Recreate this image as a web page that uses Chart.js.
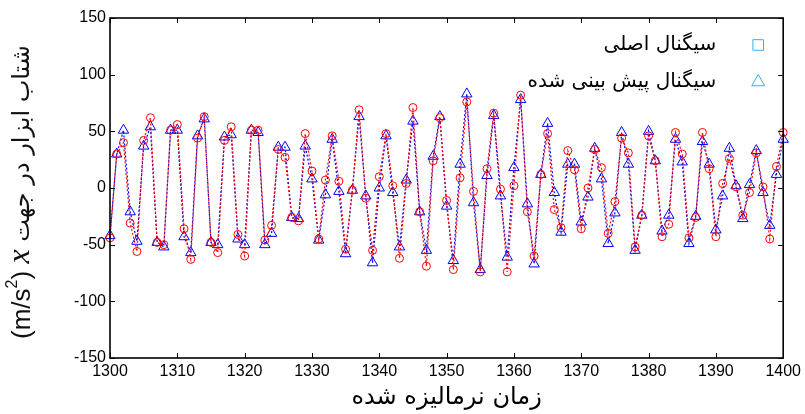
<!DOCTYPE html>
<html>
<head>
<meta charset="utf-8">
<script src="https://cdn.jsdelivr.net/npm/chart.js@4.4.1/dist/chart.umd.min.js"></script>
<style>
    html, body { margin: 0; padding: 0; background: #fff; }
</style>
</head>
<body>
<canvas id="chart" width="805" height="414"></canvas>
<script>
// Eixo do tempo (amostras normalizadas)
const timeSteps = [
    1300, 1301, 1302, 1303, 1304, 1305, 1306, 1307, 1308, 1309,
    1310, 1311, 1312, 1313, 1314, 1315, 1316, 1317, 1318, 1319,
    1320, 1321, 1322, 1323, 1324, 1325, 1326, 1327, 1328, 1329,
    1330, 1331, 1332, 1333, 1334, 1335, 1336, 1337, 1338, 1339,
    1340, 1341, 1342, 1343, 1344, 1345, 1346, 1347, 1348, 1349,
    1350, 1351, 1352, 1353, 1354, 1355, 1356, 1357, 1358, 1359,
    1360, 1361, 1362, 1363, 1364, 1365, 1366, 1367, 1368, 1369,
    1370, 1371, 1372, 1373, 1374, 1375, 1376, 1377, 1378, 1379,
    1380, 1381, 1382, 1383, 1384, 1385, 1386, 1387, 1388, 1389,
    1390, 1391, 1392, 1393, 1394, 1395, 1396, 1397, 1398, 1399,
    1400
];

// Sinal original (círculos vermelhos)
const measured = [
    -44, 30, 40, -31, -56, 42, 62, -48, -50, 51,
    56, -36, -63, 44, 63, -48, -57, 42, 54, -41,
    -60, 51, 51, -46, -33, 34, 27, -26, -29, 48,
    15, -45, 7, 46, 6, -54, -2, 69, -9, -55,
    10, 48, 2, -62, 4, 71, -21, -69, 24, 62,
    -11, -72, 9, 76, -3, -74, 17, 66, -1, -74,
    2, 82, -21, -60, 12, 48, -19, -35, 33, 16,
    -36, 0, 34, 18, -40, -12, 44, 31, -52, -24,
    46, 24, -43, -32, 49, 30, -44, -26, 49, 17,
    -43, 4, 26, 1, -24, -4, 31, 1, -45, 19,
    49
];

// Sinal previsto (triângulos azuis)
const predicted = [
    -42, 30, 51, -21, -47, 37, 54, -48, -52, 51,
    51, -43, -57, 46, 61, -48, -50, 45, 47, -45,
    -50, 51, 49, -50, -40, 36, 36, -26, -27, 37,
    8, -46, -6, 43, -3, -58, -2, 63, -7, -66,
    0, 46, -4, -52, 7, 59, -21, -55, 28, 63,
    -16, -64, 21, 83, -13, -72, 11, 64, -7, -61,
    18, 78, -14, -67, 12, 57, -4, -39, 21, 21,
    -30, -8, 35, 8, -49, -22, 49, 21, -55, -24,
    50, 24, -38, -24, 43, 23, -49, -25, 41, 21,
    -37, -7, 35, 2, -27, 3, 33, -4, -33, 12,
    43
];

const legendLabels = ['سیگنال اصلی', 'سیگنال پیش بینی شده'];
const legendMarkers = ['rect', 'triangle'];
const xTitle = 'زمان نرمالیزه شده';
const yTitle = 'شتاب ابزار در جهت';

const toPoints = values => values.map((v, i) => ({ x: timeSteps[i], y: v }));

// Moldura estilo MATLAB com ticks para dentro
const framePlugin = {
    id: 'frame',
    afterDatasetsDraw(chart) {
        const { ctx, chartArea: a, scales } = chart;
        ctx.save();
        ctx.strokeStyle = '#000';
        ctx.lineWidth = 1.6;
        ctx.strokeRect(a.left, a.top, a.right - a.left, a.bottom - a.top);
        ctx.lineWidth = 1;
        ctx.beginPath();
        scales.x.ticks.forEach(t => {
            const px = Math.round(scales.x.getPixelForValue(t.value)) + 0.5;
            ctx.moveTo(px, a.bottom); ctx.lineTo(px, a.bottom - 5);
            ctx.moveTo(px, a.top); ctx.lineTo(px, a.top + 5);
        });
        scales.y.ticks.forEach(t => {
            const py = Math.round(scales.y.getPixelForValue(t.value)) + 0.5;
            ctx.moveTo(a.left, py); ctx.lineTo(a.left + 5, py);
            ctx.moveTo(a.right, py); ctx.lineTo(a.right - 5, py);
        });
        ctx.stroke();
        ctx.restore();
    }
};

// Legenda no canto superior direito (marcador à direita do texto)
const legendPlugin = {
    id: 'rtlLegend',
    afterDraw(chart) {
        const { ctx, chartArea: a } = chart;
        ctx.save();
        legendLabels.forEach((label, i) => {
            const y = a.top + 27 + i * 37;
            ctx.strokeStyle = '#2fb2ee';
            ctx.fillStyle = 'rgba(0,0,0,0)';
            ctx.lineWidth = 1;
            Chart.helpers.drawPoint(ctx, { pointStyle: legendMarkers[i], radius: 7.5, borderWidth: 1, rotation: 0 }, a.right - 25, y);
            ctx.fillStyle = '#000';
            ctx.font = '20px "DejaVu Sans"';
            ctx.textAlign = 'right';
            ctx.textBaseline = 'middle';
            ctx.fillText(label, a.right - 67, y);
        });
        ctx.restore();
    }
};

// Título do eixo Y com x itálico e expoente
const yTitlePlugin = {
    id: 'yTitle',
    afterDraw(chart) {
        const { ctx, chartArea: a } = chart;
        const parts = [
            { text: '(m/s', font: '26px "Liberation Sans"', dy: 0 },
            { text: '2', font: '16px "Liberation Sans"', dy: -10 },
            { text: ') ', font: '26px "Liberation Sans"', dy: 0 },
            { text: 'x', font: 'italic 32px "Liberation Serif"', dy: -2 },
            { text: ' ' + yTitle, font: '24px "DejaVu Sans"', dy: 0 }
        ];
        ctx.save();
        ctx.fillStyle = '#111';
        ctx.textBaseline = 'middle';
        ctx.textAlign = 'left';
        let total = 0;
        parts.forEach(p => { ctx.font = p.font; p.w = ctx.measureText(p.text).width; total += p.w; });
        ctx.translate(23, (a.top + a.bottom) / 2 + 4);
        ctx.rotate(-Math.PI / 2);
        let x = -total / 2;
        parts.forEach(p => {
            ctx.font = p.font;
            ctx.fillText(p.text, x, p.dy);
            x += p.w;
        });
        ctx.restore();
    }
};

new Chart(document.getElementById('chart'), {
    type: 'line',
    data: {
        datasets: [
            {
                label: legendLabels[0],
                data: toPoints(measured),
                borderColor: '#ff0000',
                borderWidth: 1.2,
                borderDash: [2, 2],
                pointStyle: 'circle',
                pointRadius: 4,
                pointBorderWidth: 1,
                pointBorderColor: '#ff0000',
                pointBackgroundColor: 'rgba(0,0,0,0)',
                tension: 0,
                clip: false
            },
            {
                label: legendLabels[1],
                data: toPoints(predicted),
                borderColor: '#0000ff',
                borderWidth: 1.2,
                borderDash: [2, 2],
                pointStyle: 'triangle',
                pointRadius: 6,
                pointBorderWidth: 1,
                pointBorderColor: '#0000ff',
                pointBackgroundColor: 'rgba(0,0,0,0)',
                tension: 0,
                clip: false
            }
        ]
    },
    options: {
        responsive: false,
        animation: false,
        layout: { padding: { top: 18, right: 19, left: 0, bottom: 0 } },
        plugins: {
            legend: { display: false },
            tooltip: { enabled: false }
        },
        scales: {
            x: {
                type: 'linear',
                min: 1300,
                max: 1400,
                grid: { display: false, drawTicks: false },
                border: { display: false },
                ticks: {
                    stepSize: 10,
                    padding: 4,
                    color: '#000',
                    font: { family: 'Liberation Sans', size: 16 },
                    maxRotation: 0,
                    callback: value => String(value)
                },
                title: {
                    display: true,
                    text: xTitle,
                    color: '#000',
                    font: { family: 'DejaVu Sans', size: 24 },
                    padding: { top: 0, bottom: 2 }
                },
                afterFit: scale => { scale.height = 56; }
            },
            y: {
                min: -150,
                max: 150,
                grid: { display: false, drawTicks: false },
                border: { display: false },
                ticks: {
                    stepSize: 50,
                    padding: 4,
                    color: '#000',
                    font: { family: 'Liberation Sans', size: 16 }
                },
                afterFit: scale => { scale.width = 110; }
            }
        }
    },
    plugins: [framePlugin, legendPlugin, yTitlePlugin]
});
</script>
</body>
</html>
